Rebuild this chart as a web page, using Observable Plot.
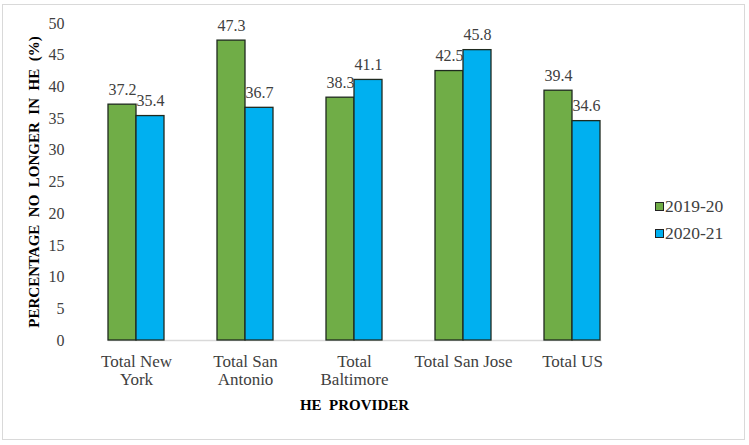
<!DOCTYPE html>
<html><head><meta charset="utf-8">
<script src="https://cdn.jsdelivr.net/npm/d3@7"></script>
<script src="https://cdn.jsdelivr.net/npm/@observablehq/plot@0.6"></script>
<style>
body{margin:0;background:#fff;}
#wrap{position:relative;width:749px;height:445px;}
#wrap, #wrap div, #wrap svg, #wrap svg text, #wrap svg tspan{font-family:'Liberation Serif', serif !important;}
#frame{position:absolute;left:2px;top:4px;width:743px;height:436px;border:1px solid #d9d9d9;pointer-events:none;box-sizing:border-box;}
#legend{position:absolute;left:655px;top:193px;font-size:17.5px;color:#404040;line-height:27px;}
#legend .sw{display:inline-block;width:7px;height:7px;border:1px solid #222;margin-right:1px;vertical-align:1px;}
#wrap svg g[aria-label$="axis label"] text{font-weight:bold;font-size:15px;fill:#000;}
</style></head>
<body><div id="wrap"><div id="frame"></div><div id="legend"></div></div>
<script>
const categories = ["Total New York","Total San Antonio","Total Baltimore","Total San Jose","Total US"];
const categoryLabels = ["Total New\nYork","Total San\nAntonio","Total\nBaltimore","Total San Jose","Total US"];
const series = ["2019-20","2020-21"];
const values2019 = [37.2,47.3,38.3,42.5,39.4];
const values2020 = [35.4,36.7,41.1,45.8,34.6];
const yTicks = [0,5,10,15,20,25,30,35,40,45,50];
const colors = ["#70AD47","#00B0F0"];

const data = [];
categories.forEach((c,i)=>{
  data.push({category:c, series:series[0], value:values2019[i]});
  data.push({category:c, series:series[1], value:values2020[i]});
});
const labelMap = new Map(categories.map((c,i)=>[c,categoryLabels[i]]));

const chart = Plot.plot({
  width:749, height:445,
  marginLeft:80, marginRight:122, marginTop:23, marginBottom:105,
  style:{fontSize:"16px", color:"#404040", background:"transparent"},
  fx:{domain:categories, paddingInner:0.49, paddingOuter:0.245},
  x:{domain:series, axis:null, padding:0},
  y:{domain:[0,50]},
  color:{domain:series, range:colors},
  marks:[
    Plot.axisFx({anchor:"bottom", tickSize:0, tickPadding:13, fontSize:17, lineHeight:1.1,
      tickFormat:d=>labelMap.get(d), label:"HE  PROVIDER", labelAnchor:"center", labelOffset:69}),
    Plot.axisY({ticks:yTicks, tickSize:0, tickPadding:44, fontSize:16,
      label:"PERCENTAGE  NO  LONGER  IN  HE  (%)", labelAnchor:"center", labelOffset:80, labelArrow:"none"}),
    Plot.frame({anchor:"bottom", facet:"super", stroke:"#d9d9d9", strokeWidth:1.5}),
    Plot.barY(data,{fx:"category", x:"series", y:"value", fill:"series", stroke:"#1f2a1f", strokeWidth:1.3}),
    Plot.text(data,{fx:"category", x:"series", y:"value", text:d=>d.value.toFixed(1), dy:-15, fill:"#404040", fontSize:16})
  ]
});
document.getElementById("wrap").prepend(chart);
document.getElementById("legend").innerHTML = series.map((s,i)=>
  `<div><span class="sw" style="background:${colors[i]}"></span>${s}</div>`).join("");
</script>
</body></html>
